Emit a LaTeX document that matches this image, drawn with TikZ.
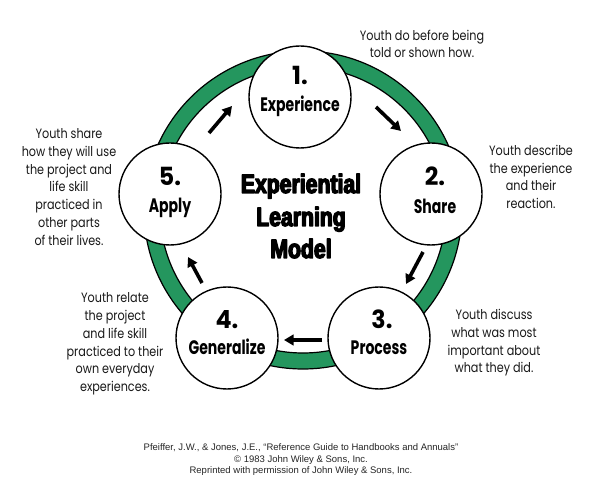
\documentclass[tikz,border=0pt]{standalone}
\usepackage{fontspec}
\usetikzlibrary{arrows.meta}
\newfontfamily\descfont{Poppins}[FakeStretch=0.83]
\newfontfamily\labfont{Poppins}[FakeStretch=0.72]
\newfontfamily\numfont{Poppins}[FakeStretch=0.95]
\newfontfamily\titlefont{Liberation Sans Bold}[FakeStretch=0.8]
\newfontfamily\footfont{Liberation Sans}
\definecolor{ringgreen}{RGB}{36,150,94}
\newcommand{\heavytext}[1]{\special{pdf:literal direct 0 g 0 G 1 j 2 Tr 1.3 w}#1\special{pdf:literal direct 0 Tr 0 j 1 w}}
\begin{document}
\begin{tikzpicture}[x=1pt,y=-1pt,
  stage/.style={circle,draw=black,line width=1.4pt,fill=white,minimum size=102pt,inner sep=0pt},
  numtxt/.style={anchor=base,inner sep=0pt,font=\numfont\bfseries\fontsize{25}{25}\selectfont},
  labtxt/.style={anchor=base,inner sep=0pt,font=\labfont\bfseries\fontsize{19.5}{19.5}\selectfont},
  titletxt/.style={anchor=base,inner sep=0pt,font=\titlefont\fontsize{26.5}{26.5}\selectfont},
  desc/.style={align=center,inner sep=0pt,text=black!90,font=\descfont\fontsize{13.5}{17.7}\selectfont},
  foot/.style={align=center,inner sep=0pt,text=black!85,font=\footfont\fontsize{9.5}{11.5}\selectfont},
  flow/.style={line width=3.6pt,-{Triangle[width=10.5pt,length=9.5pt]}},
  ringline/.style={draw=black,line width=1.2pt}]
\useasboundingbox[fill=white] (0,0) rectangle (589,494);
% ring
\coordinate (rc) at (303,210);
\fill[ringgreen,even odd rule] (rc) circle[radius=159pt] (rc) circle[radius=143pt];
\draw[ringline] (rc) circle[radius=159pt];
\draw[ringline] (rc) circle[radius=143pt];
% stages
\node[stage] (c1) at (300,97) {};
\node[stage] (c2) at (431,194) {};
\node[stage] (c3) at (379,338) {};
\node[stage] (c4) at (227,338) {};
\node[stage] (c5) at (170,194) {};
\node[numtxt] (n1) at ([yshift=12pt]c1.center) {1.};
\node[labtxt] (l1) at ([yshift=-15pt]c1.center) {Experience};
\node[numtxt] (n2) at ([xshift=4pt,yshift=8pt]c2.center) {2.};
\node[labtxt] (l2) at ([xshift=4pt,yshift=-20pt]c2.center) {Share};
\node[numtxt] (n3) at ([xshift=3pt,yshift=10pt]c3.center) {3.};
\node[labtxt] (l3) at ([yshift=-17pt]c3.center) {Process};
\node[numtxt] (n4) at ([yshift=10pt]c4.center) {4.};
\node[labtxt] (l4) at ([yshift=-17pt]c4.center) {Generalize};
\node[numtxt] (n5) at ([yshift=8pt]c5.center) {5.};
\node[labtxt] (l5) at ([yshift=-19pt]c5.center) {Apply};
% arrows
\coordinate (a1s) at (209,133); \coordinate (a1e) at (232,106);
\coordinate (a2s) at (376,107); \coordinate (a2e) at (401,131);
\coordinate (a3s) at (423,252); \coordinate (a3e) at (406,284);
\coordinate (a4s) at (322,340); \coordinate (a4e) at (284,340);
\coordinate (a5s) at (202,283); \coordinate (a5e) at (188,257);
\draw[flow] (a1s) -- (a1e);
\draw[flow] (a2s) -- (a2e);
\draw[flow] (a3s) -- (a3e);
\draw[flow] (a4s) -- (a4e);
\draw[flow] (a5s) -- (a5e);
% title
\node[titletxt] (t1) at (301,193) {\heavytext{Experiential}};
\node[titletxt] (t2) at (301,226) {\heavytext{Learning}};
\node[titletxt] (t3) at (301,258) {\heavytext{Model}};
% descriptions
\node[desc] (d1) at (422,44) {Youth do before being\\told or shown how.};
\node[desc] (d2) at (531,177) {Youth describe\\the experience\\and their\\reaction.};
\node[desc] (d3) at (494,343) {Youth discuss\\what was most\\important about\\what they did.};
\node[desc] (d4) at (115,344) {Youth relate\\the project\\and life skill\\practiced to their\\own everyday\\experiences.};
\node[desc] (d5) at (69,187) {Youth share\\how they will use\\the project and\\life skill\\practiced in\\other parts\\of their lives.};
% footer
\node[foot] (f) at (301,460) {Pfeiffer, J.W., \& Jones, J.E., “Reference Guide to Handbooks and Annuals”\\© 1983 John Wiley \& Sons, Inc.\\Reprinted with permission of John Wiley \& Sons, Inc.};
\end{tikzpicture}
\end{document}
